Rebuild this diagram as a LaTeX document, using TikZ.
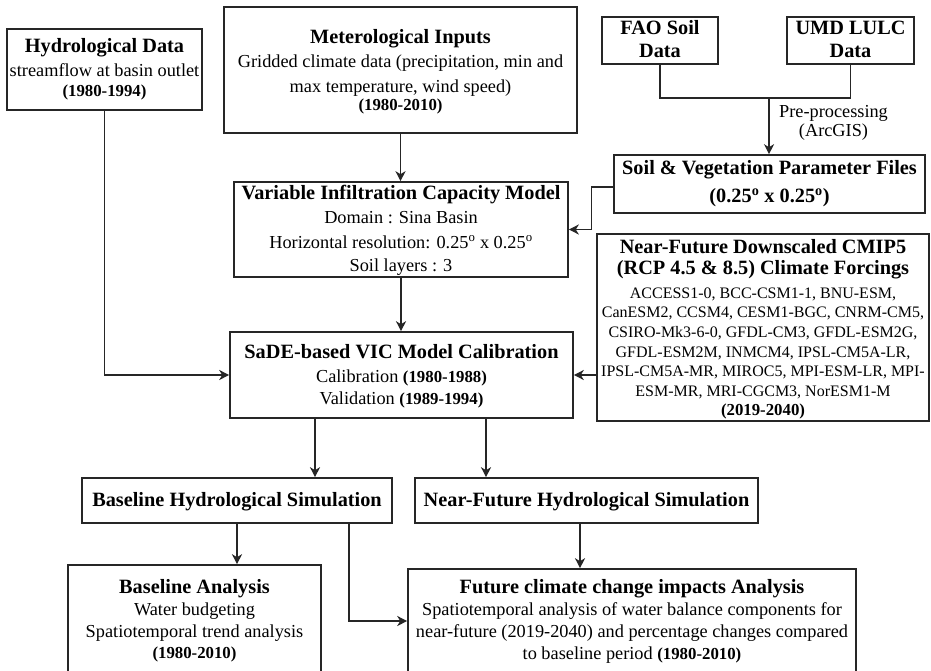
\documentclass[tikz,border=0pt]{standalone}
\usepackage{fontspec}
\setmainfont{Liberation Serif}
\usetikzlibrary{arrows.meta}
\newcommand\yrf{\fontsize{16.8}{20}\selectfont\bfseries}
\newcommand\dg{\textsuperscript{o}}
\begin{document}
\begin{tikzpicture}[x=1pt,y=-1pt,
  box/.style={draw=black!85, line width=1.6pt, rectangle, inner sep=0pt, fill=white},
  ttl/.style={font=\fontsize{20.3}{24}\selectfont\bfseries, anchor=base, inner sep=0pt},
  bod/.style={font=\fontsize{18.3}{22}\selectfont, anchor=base, inner sep=0pt},
  yr/.style={font=\yrf, anchor=base, inner sep=0pt},
  sml/.style={font=\fontsize{16}{20}\selectfont, anchor=base, inner sep=0pt},
  conn/.style={line width=1.4pt, draw=black!85},
  arr/.style={conn, -{Stealth[length=10pt,width=10pt,inset=3pt]}}]
\useasboundingbox[fill=white] (0,0) rectangle (931,671);
\clip (0,0) rectangle (931,671);

% boxes
\node[box, minimum width=195, minimum height=81]  (hyd)  at (104.5,69.5) {};
\node[box, minimum width=353, minimum height=126] (met)  at (400.5,70) {};
\node[box, minimum width=116, minimum height=47]  (fao)  at (660,40.5) {};
\node[box, minimum width=127, minimum height=47]  (umd)  at (850.5,40.5) {};
\node[box, minimum width=311, minimum height=58]  (soil) at (769.5,184) {};
\node[box, minimum width=334, minimum height=95]  (vic)  at (401,229.5) {};
\node[box, minimum width=332, minimum height=187] (cmip) at (763,327.5) {};
\node[box, minimum width=343, minimum height=86]  (cal)  at (401.5,375) {};
\node[box, minimum width=310, minimum height=45]  (bsim) at (237,500.5) {};
\node[box, minimum width=343, minimum height=45]  (nsim) at (586.5,500.5) {};
\node[box, minimum width=253, minimum height=135] (bana) at (194.5,632.5) {};
\node[box, minimum width=448, minimum height=131] (fut)  at (632,634.5) {};

% helper coordinates
\coordinate (j)  at (769,98);
\coordinate (c1) at (315,0);
\coordinate (c2) at (486,0);
\coordinate (c3) at (349,0);
\coordinate (c4) at (0,621);
\coordinate (c5) at (580,0);

% connectors
\draw[arr] (hyd.south) -- (hyd.south |- cal.west) -- (cal.west);
\draw[arr] (met.south) -- (met.south |- vic.north);
\draw[conn] (fao.south) |- (j);
\draw[conn] (umd.south) |- (j);
\draw[arr] (j) -- (j |- soil.north);
\draw[arr] ([yshift=-3pt]soil.west) -- ++(-22,0) |- (vic.east);
\draw[arr] (vic.south) -- (vic.south |- cal.north);
\draw[arr] (cmip.west |- cal.east) -- (cal.east);
\draw[arr] (cal.south -| c1) -- (bsim.north -| c1);
\draw[arr] (cal.south -| c2) -- (nsim.north -| c2);
\draw[arr] (bsim.south) -- (bsim.south |- bana.north);
\draw[arr] (bsim.south -| c3) -- (c3 |- c4) -- (fut.west |- c4);
\draw[arr] (nsim.south -| c5) -- (fut.north -| c5);

% texts
\node[ttl] (hydA) at (104.5,53) {Hydrological Data};
\node[bod] (hydB) at (104.5,77) {streamflow at basin outlet};
\node[yr]  (hydC) at (104.5,97) {(1980-1994)};

\node[ttl] (metA) at (400.5,44) {Meterological Inputs};
\node[bod] (metB) at (400.5,68) {Gridded climate data (precipitation, min and};
\node[bod] (metC) at (400.5,93) {max temperature, wind speed)};
\node[yr]  (metD) at (400.5,111) {(1980-2010)};

\node[ttl] (faoA) at (660,35) {FAO Soil};
\node[ttl] (faoB) at (660,58) {Data};
\node[ttl] (umdA) at (850.5,35) {UMD LULC};
\node[ttl] (umdB) at (850.5,58) {Data};

\node[bod] (ppA) at (833.5,118) {Pre-processing};
\node[bod] (ppB) at (833.5,137) {(ArcGIS)};

\node[ttl] (soilA) at (769.5,175) {Soil \& Vegetation Parameter Files};
\node[ttl] (soilB) at (769.5,203) {(0.25\dg{} x 0.25\dg)};

\node[ttl] (vicA) at (401,200) {Variable Infiltration Capacity Model};
\node[bod] (vicB) at (401,223) {Domain : Sina Basin};
\node[bod] (vicC) at (401,248) {Horizontal resolution: 0.25\dg{} x 0.25\dg};
\node[bod] (vicD) at (401,271) {Soil layers : 3};

\node[ttl] (cmA) at (763,253) {Near-Future Downscaled CMIP5};
\node[ttl] (cmB) at (763,274) {(RCP 4.5 \& 8.5) Climate Forcings};
\node[sml] (cmC) at (763,298) {ACCESS1-0, BCC-CSM1-1, BNU-ESM,};
\node[sml] (cmD) at (763,317) {CanESM2, CCSM4, CESM1-BGC, CNRM-CM5,};
\node[sml] (cmE) at (763,337) {CSIRO-Mk3-6-0, GFDL-CM3, GFDL-ESM2G,};
\node[sml] (cmF) at (763,357) {GFDL-ESM2M, INMCM4, IPSL-CM5A-LR,};
\node[sml] (cmG) at (763,376) {IPSL-CM5A-MR, MIROC5, MPI-ESM-LR, MPI-};
\node[sml] (cmH) at (763,396) {ESM-MR, MRI-CGCM3, NorESM1-M};
\node[yr]  (cmI) at (763,415) {(2019-2040)};

\node[ttl] (calA) at (401.5,358) {SaDE-based VIC Model Calibration};
\node[bod] (calB) at (401.5,382) {Calibration {\yrf (1980-1988)}};
\node[bod] (calC) at (401.5,404) {Validation {\yrf (1989-1994)}};

\node[ttl] (bsimA) at (237,506) {Baseline Hydrological Simulation};
\node[ttl] (nsimA) at (586.5,506) {Near-Future Hydrological Simulation};

\node[ttl] (banaA) at (194.5,593) {Baseline Analysis};
\node[bod] (banaB) at (194.5,615) {Water budgeting};
\node[bod] (banaC) at (194.5,637) {Spatiotemporal trend analysis};
\node[yr]  (banaD) at (194.5,658) {(1980-2010)};

\node[ttl] (futA) at (632,593) {Future climate change impacts Analysis};
\node[bod] (futB) at (632,615) {Spatiotemporal analysis of water balance components for};
\node[bod] (futC) at (632,637) {near-future (2019-2040) and percentage changes compared};
\node[bod] (futD) at (632,659) {to baseline period {\yrf (1980-2010)}};
\end{tikzpicture}
\end{document}
